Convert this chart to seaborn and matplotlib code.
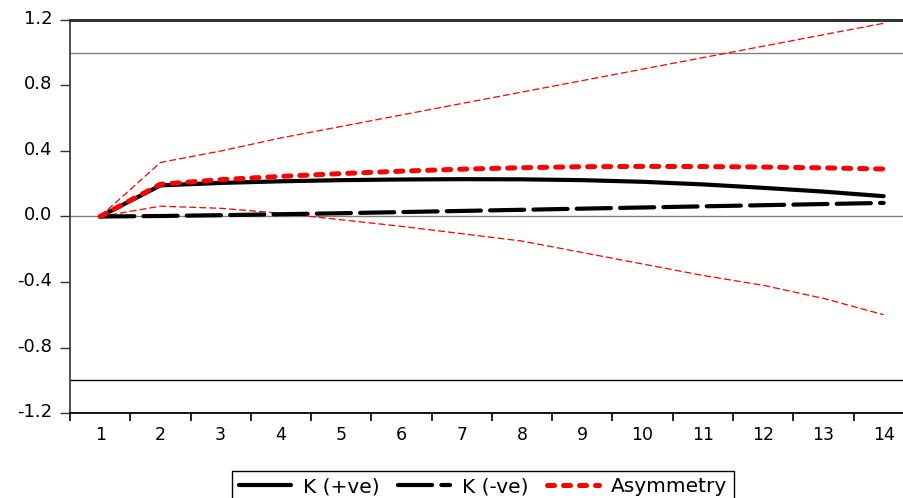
import matplotlib
matplotlib.use("Agg")
import matplotlib.pyplot as plt
import matplotlib.transforms as mtransforms
import seaborn as sns
import pandas as pd
from matplotlib.ticker import FixedLocator, NullFormatter

# ---- data ----
horizon = list(range(1, 15))
k_pos = [0.0, 0.190, 0.205, 0.215, 0.222, 0.226, 0.228, 0.227, 0.222, 0.212, 0.196, 0.175, 0.152, 0.124]
k_neg = [0.0, 0.003, 0.008, 0.014, 0.020, 0.027, 0.034, 0.041, 0.048, 0.055, 0.062, 0.069, 0.076, 0.083]
asym = [0.0, 0.197, 0.225, 0.245, 0.262, 0.277, 0.289, 0.298, 0.304, 0.306, 0.305, 0.302, 0.297, 0.290]
upper = [0.0, 0.330, 0.400, 0.480, 0.550, 0.620, 0.690, 0.760, 0.830, 0.900, 0.970, 1.040, 1.110, 1.180]
lower = [0.0, 0.063, 0.050, 0.020, -0.020, -0.060, -0.105, -0.150, -0.220, -0.290, -0.360, -0.420, -0.500, -0.600]
ref_levels = [1.0, 0.0, -1.0]
y_ticks = [1.2, 0.8, 0.4, 0.0, -0.4, -0.8, -1.2]
x_labels = [str(h) for h in horizon]
series_labels = ["K (+ve)", "K (-ve)", "Asymmetry"]

df = pd.DataFrame({"h": horizon, "k_pos": k_pos, "k_neg": k_neg,
                   "asym": asym, "upper": upper, "lower": lower})

sns.set_theme(style="white")
plt.rcParams['font.family'] = ['DejaVu Sans']
plt.rcParams['text.color'] = 'black'

fig = plt.figure(figsize=(9.04, 4.98), dpi=100)
W, H = 904, 498
left_px, right_px, top_px, bot_px = 70, 913.8, 20, 413
ax = fig.add_axes([left_px / W, 1 - bot_px / H, (right_px - left_px) / W, (bot_px - top_px) / H])

# reference lines
ref_colors = ["#808080", "#808080", "#000000"]
for lv, c in zip(ref_levels, ref_colors):
    ax.axhline(lv, color=c, lw=1.0, zorder=1)

# confidence bands
sns.lineplot(data=df, x="h", y="upper", ax=ax, color="red", linewidth=0.9, zorder=2)
sns.lineplot(data=df, x="h", y="lower", ax=ax, color="red", linewidth=0.9, zorder=2)
for ln in ax.lines[-2:]:
    ln.set_dashes((5.5, 2.5))

sns.lineplot(data=df, x="h", y="k_pos", ax=ax, color="black", linewidth=3.0, zorder=3)
l_pos = ax.lines[-1]
sns.lineplot(data=df, x="h", y="k_neg", ax=ax, color="black", linewidth=3.0, zorder=3)
l_neg = ax.lines[-1]
l_neg.set_dashes((8.2, 2.2))
l_neg.set_dash_capstyle("round")
sns.lineplot(data=df, x="h", y="asym", ax=ax, color="#ff0000", linewidth=3.6, zorder=4)
l_asym = ax.lines[-1]
l_asym.set_dashes((1.4, 1.8))
l_asym.set_dash_capstyle("round")

ax.set_xlim(0.5, 14.5)
ax.set_ylim(-1.2, 1.2)
ax.set_xlabel("")
ax.set_ylabel("")

ax.xaxis.set_major_locator(FixedLocator(horizon))
ax.set_xticklabels(x_labels)
ax.xaxis.set_minor_locator(FixedLocator([h - 0.5 for h in horizon] + [horizon[-1] + 0.5]))
ax.xaxis.set_minor_formatter(NullFormatter())
ax.tick_params(axis="x", which="major", length=0, pad=9, labelsize=12.5, colors="black")
ax.tick_params(axis="x", which="minor", bottom=True, length=5.5, width=1.2, color="black", direction="out")

ax.yaxis.set_major_locator(FixedLocator(y_ticks))
ax.set_yticklabels([f"{v:.1f}" for v in y_ticks])
ax.tick_params(axis="y", which="major", left=True, length=7.3, width=1.0, color="#333333",
               direction="out", pad=5.5, labelsize=13, labelcolor="black")
shift = mtransforms.ScaledTranslation(0, 3 / 100, fig.dpi_scale_trans)
for lbl in ax.get_yticklabels():
    lbl.set_transform(lbl.get_transform() + shift)

ax.spines["right"].set_visible(False)
ax.spines["top"].set_color("#333333")
ax.spines["top"].set_linewidth(2.2)
ax.spines["left"].set_color("#404040")
ax.spines["left"].set_linewidth(1.3)
ax.spines["bottom"].set_color("black")
ax.spines["bottom"].set_linewidth(1.3)
ax.grid(False)

leg = fig.legend([l_pos, l_neg, l_asym], series_labels, loc="upper center",
                 bbox_to_anchor=(483 / W, 1 - 471 / H), ncol=3, fontsize=14.5,
                 frameon=True, fancybox=False, edgecolor="black", framealpha=1,
                 handlelength=2.6, handletextpad=0.6, columnspacing=0.9,
                 borderpad=0.3, borderaxespad=0)
leg.get_frame().set_linewidth(1.0)
for t in leg.get_texts():
    t.set_color("black")

fig.savefig("out.png", dpi=100, facecolor="white")
